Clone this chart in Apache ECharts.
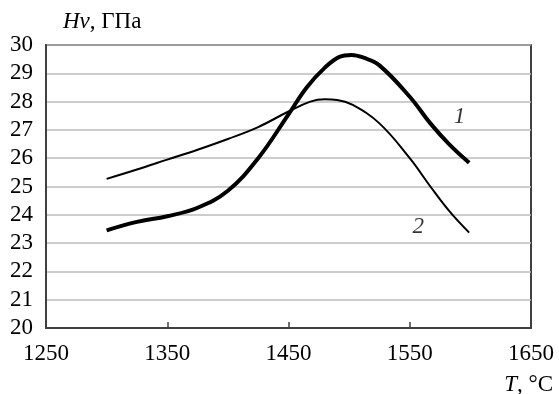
<!DOCTYPE html>
<html>
<head>
<meta charset="utf-8">
<script src="https://cdn.jsdelivr.net/npm/echarts@6/dist/echarts.min.js"></script>
<style>
html,body{margin:0;padding:0;background:#fff;}
#c{width:559px;height:394px;}
</style>
</head>
<body>
<div id="c"></div>
<script>
// Curve 1 (thick): temperature, hardness
const t1 = [1300, 1325, 1350, 1375, 1400, 1425, 1450, 1465, 1480, 1492, 1502, 1512, 1525, 1550, 1567, 1583, 1599];
const hv1 = [23.45, 23.75, 23.95, 24.25, 24.85, 26.0, 27.55, 28.5, 29.2, 29.58, 29.65, 29.55, 29.28, 28.17, 27.23, 26.47, 25.84];
// Curve 2 (thin)
const t2 = [1300, 1325, 1350, 1375, 1400, 1425, 1450, 1468, 1480, 1490, 1503, 1525, 1550, 1567, 1583, 1599];
const hv2 = [25.27, 25.6, 25.95, 26.3, 26.68, 27.1, 27.65, 28.0, 28.08, 28.06, 27.88, 27.23, 26.0, 25.0, 24.11, 23.37];
// Curve labels: [T, Hv, text]
const curveLabels = [[1591, 27.47, '1'], [1557, 23.58, '2']];
const yTitle = ['Hv', ', ГПа'];
const xTitle = ['T', ', °C'];

const font = 'Liberation Serif';
const fs = 23;
const chart = echarts.init(document.getElementById('c'), null, {renderer: 'canvas'});
const pairs = (xs, ys) => xs.map((x, i) => [x, ys[i]]);
const richT = {
  i: {fontFamily: font, fontStyle: 'italic', fontWeight: 'normal', fontSize: fs, color: '#000'},
  n: {fontFamily: font, fontWeight: 'normal', fontSize: fs, color: '#000'}
};

chart.setOption({
  animation: false,
  backgroundColor: '#fff',
  textStyle: {fontFamily: font},
  title: [
    {text: '{i|' + yTitle[0] + '}{n|' + yTitle[1] + '}', left: 63, top: 10, padding: 0,
     textStyle: {fontWeight: 'normal', rich: richT}},
    {text: '{i|' + xTitle[0] + '}{n|' + xTitle[1] + '}', right: 6, top: 373, padding: 0,
     textStyle: {fontWeight: 'normal', rich: richT}}
  ],
  grid: {left: 46, right: 28, top: 45, bottom: 66, show: true, borderColor: '#000', borderWidth: 1.5},
  xAxis: {
    type: 'value', min: 1250, max: 1650, interval: 100,
    axisLine: {lineStyle: {color: '#404040', width: 2}},
    axisTick: {inside: true, length: 6, lineStyle: {color: '#404040', width: 1.5}},
    axisLabel: {color: '#000', fontSize: fs, fontFamily: font, margin: 14, formatter: v => String(v)},
    splitLine: {show: false}
  },
  yAxis: {
    type: 'value', min: 20, max: 30, interval: 1,
    axisLine: {show: true, lineStyle: {color: '#404040', width: 2}},
    axisTick: {show: false},
    axisLabel: {color: '#000', fontSize: fs, fontFamily: font, margin: 13, formatter: v => String(v)},
    splitLine: {lineStyle: {color: '#bdbdbd', width: 1.5}}
  },
  series: [
    {type: 'line', data: pairs(t1, hv1), smooth: 0.4, showSymbol: false,
     lineStyle: {color: '#000', width: 4}},
    {type: 'line', data: pairs(t2, hv2), smooth: 0.4, showSymbol: false,
     lineStyle: {color: '#000', width: 2}},
    {type: 'scatter', data: curveLabels.map(d => ({value: [d[0], d[1]], name: d[2]})),
     symbol: 'circle', symbolSize: 1, itemStyle: {color: 'rgba(0,0,0,0)'}, silent: true,
     label: {show: true, position: 'inside', formatter: p => p.name, fontSize: fs, fontStyle: 'italic', fontFamily: font, color: '#000'}}
  ]
});
</script>
</body>
</html>
